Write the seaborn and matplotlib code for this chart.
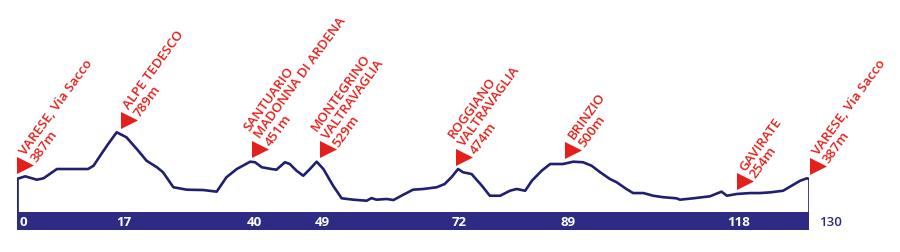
import numpy as np
import pandas as pd
import matplotlib
matplotlib.use("Agg")
import matplotlib.pyplot as plt
import matplotlib.transforms as mtransforms
import seaborn as sns

# ---- data -------------------------------------------------------------
km = [0, 1.4, 3.3, 4.4, 6.6, 8.7, 11.7, 12.6, 13.7, 15.0, 16.4, 18.0, 19.7,
      21.3, 23.0, 24.0, 25.7, 27.9, 30.6, 32.8, 34.4, 36.1, 38.3, 39.1, 40.2,
      41.8, 42.6, 44.0, 44.8, 45.9, 47.0, 48.1, 49.2, 50.3, 51.9, 53.3, 55.2,
      57.4, 58.2, 59.0, 60.7, 61.8, 63.1, 65.0, 66.7, 68.9, 70.2, 71.3, 72.4,
      73.2, 74.6, 76.3, 77.6, 79.3, 80.9, 82.0, 83.4, 84.5, 86.1, 87.5, 89.6,
      91.3, 92.9, 94.3, 95.7, 97.3, 98.4, 100.0, 101.1, 102.8, 104.4, 106.1,
      108.2, 108.8, 111.0, 113.7, 115.6, 116.5, 118.1, 120.3, 121.9, 123.6,
      125.7, 127.1, 128.5, 129.6, 130]
elevation = [387, 410, 381, 393, 473, 473, 473, 501, 588, 688, 789, 746, 645,
             544, 488, 445, 316, 295, 292, 278, 402, 473, 536, 531, 488,
             473, 467, 531, 516, 458, 415, 473, 536, 473, 329, 221, 209,
             200, 223, 209, 215, 206, 243, 295, 301, 316, 344, 402, 473,
             445, 430, 329, 243, 243, 286, 301, 286, 372, 458, 516, 516,
             536, 531, 501, 445, 387, 359, 301, 266, 266, 243, 230,
             221, 209, 221, 238, 278, 243, 258, 266, 266, 272,
             286, 329, 372, 393, 387]

marker_km = [0, 17, 38.5, 49.6, 72, 89.9, 118, 130]
marker_labels = [
    "VARESE, Via Sacco\n387m",
    "ALPE TEDESCO\n789m",
    "SANTUARIO\nMADONNA DI ARDENA\n451m",
    "MONTEGRINO\nVALTRAVAGLIA\n529m",
    "ROGGIANO\nVALTRAVAGLIA\n474m",
    "BRINZIO\n500m",
    "GAVIRATE\n254m",
    "VARESE, Via Sacco\n387m",
]
km_tick_labels = ["0", "17", "40", "49", "72", "89", "118", "130"]

# ---- style ------------------------------------------------------------
sns.set_theme(style="white")
plt.rcParams["font.family"] = ["Open Sans", "DejaVu Sans"]

NAVY_LINE = "#1f2070"
NAVY_BAR = "#2e2b84"
RED = "#e3201b"

W, H = 900, 253
fig = plt.figure(figsize=(W / 100, H / 100), dpi=100)
fig.patch.set_facecolor("white")

x0, x1 = 16.7, 809.3          # pixel extent of the profile
base_px, bar_bot_px = 212.7, 230.7

ax = fig.add_axes([x0 / W, (H - base_px) / H, (x1 - x0) / W, base_px / H])
axb = fig.add_axes([x0 / W, (H - bar_bot_px) / H, (x1 - x0) / W,
                    (bar_bot_px - base_px) / H])

df = pd.DataFrame({"km": km, "elevation": elevation})
sns.lineplot(data=df, x="km", y="elevation", ax=ax, color=NAVY_LINE,
             linewidth=1.9, sort=False)

ymin, ymax = 105.6, 1936
ax.set_xlim(0, 130)
ax.set_ylim(ymin, ymax)
ax.vlines([km[0], km[-1]], ymin, [elevation[0], elevation[-1]],
          color=NAVY_LINE, linewidth=1.9)
ax.axis("off")

# markers sitting just above the profile
kma = np.array(km)
ela = np.array(elevation)
mk_y = [np.max(np.interp(np.linspace(k - 0.7, k + 0.7, 40), kma, ela))
        for k in marker_km]

tri_px = 17.0
mark_tr = mtransforms.offset_copy(ax.transData, fig=fig,
                                  x=tri_px / 2, y=4 + tri_px / 2, units="dots")
ax.scatter(marker_km, mk_y, marker=">", s=(tri_px * 0.72) ** 2, color=RED,
           linewidths=0, transform=mark_tr, clip_on=False, zorder=5)

text_tr = mtransforms.offset_copy(ax.transData, fig=fig,
                                  x=tri_px + 5, y=4 + tri_px / 2 + 1, units="dots")
for k, yv, lab in zip(marker_km, mk_y, marker_labels):
    ax.text(k, yv, lab, transform=text_tr, rotation=54, rotation_mode="anchor",
            ha="left", va="bottom", color=RED, fontsize=9.6, linespacing=1.05,
            fontweight="semibold", clip_on=False)

# distance bar
axb.set_facecolor(NAVY_BAR)
axb.set_xlim(0, 130)
axb.set_ylim(0, 1)
axb.set_xticks([])
axb.set_yticks([])
for s in axb.spines.values():
    s.set_visible(False)

for i, (k, lab) in enumerate(zip(marker_km, km_tick_labels)):
    if i == 0:
        tr = mtransforms.offset_copy(axb.transData, fig=fig, x=3, y=0, units="dots")
        axb.text(k, 0.47, lab, transform=tr, ha="left", va="center",
                 color="white", fontsize=9.5, fontweight="bold")
    elif i == len(marker_km) - 1:
        tr = mtransforms.offset_copy(axb.transData, fig=fig, x=10, y=0, units="dots")
        axb.text(k, 0.47, lab, transform=tr, ha="left", va="center",
                 color=NAVY_BAR, fontsize=9.5, fontweight="semibold", clip_on=False)
    else:
        tr = mtransforms.offset_copy(axb.transData, fig=fig, x=3, y=0, units="dots")
        axb.text(k, 0.47, lab, transform=tr, ha="center", va="center",
                 color="white", fontsize=9.5, fontweight="bold")

fig.savefig("out.png", dpi=100)
